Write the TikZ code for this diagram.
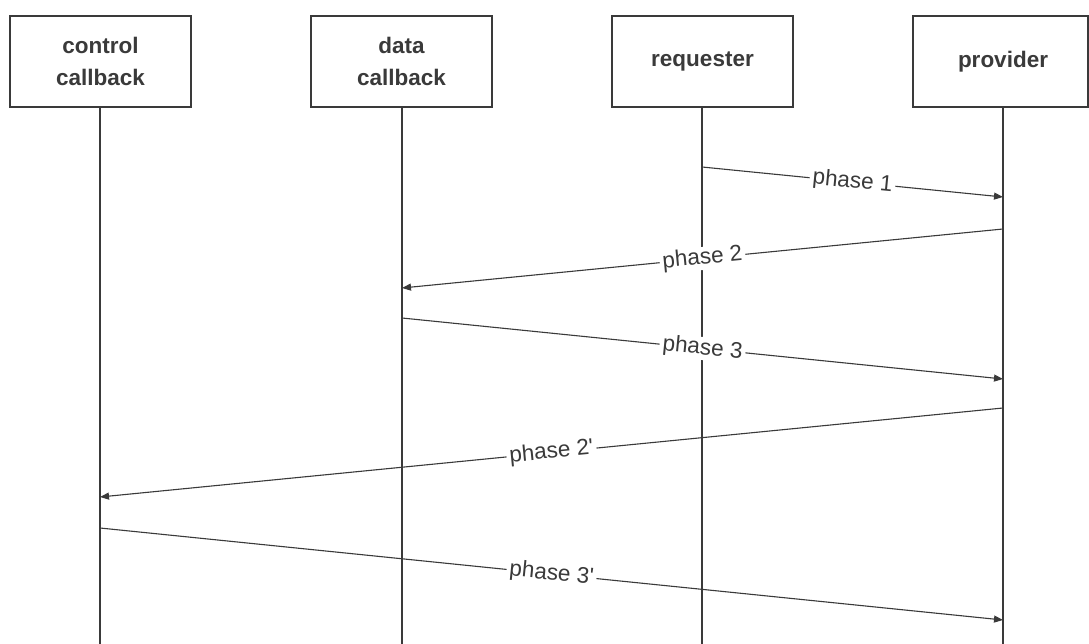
\documentclass[tikz,border=0pt]{standalone}
\usepackage{fontspec}
\setmainfont{Liberation Sans}
\usetikzlibrary{arrows.meta}
\definecolor{ink}{HTML}{3A3A3A}
\begin{document}
\begin{tikzpicture}[x=1pt,y=-1pt,
  actor/.style={draw=ink, line width=1.6pt, fill=white, minimum height=91pt,
    align=center, text=ink, font=\fontsize{22.5}{32}\selectfont\bfseries},
  life/.style={draw=ink, line width=1.6pt},
  msg/.style={draw=ink, line width=1.1pt, -{Triangle[length=9pt,width=7pt]}},
  lbl/.style={sloped, fill=white, inner xsep=3pt, inner ysep=1pt, text=ink,
    font=\fontsize{22.5}{26}\selectfont}]
\useasboundingbox[fill=white] (0,0) rectangle (1089,644);

% participants
\node[actor, minimum width=181pt] (ctl) at (100.5,61.5) {control\\callback};
\node[actor, minimum width=181pt] (dat) at (401.5,61.5) {data\\callback};
\node[actor, minimum width=181pt] (req) at (702.5,61.5) {requester};
\node[actor, minimum width=175pt] (prv) at (1000.5,61.5) {\hspace*{5pt}provider};

% lifeline ends
\coordinate (ctlT) at (100,107);  \coordinate (ctlB) at (100,644);
\coordinate (datT) at (402,107);  \coordinate (datB) at (402,644);
\coordinate (reqT) at (702,107);  \coordinate (reqB) at (702,644);
\coordinate (prvT) at (1003,107); \coordinate (prvB) at (1003,644);

\draw[life] (ctlT) -- (ctlB);
\draw[life] (datT) -- (datB);
\draw[life] (reqT) -- (reqB);
\draw[life] (prvT) -- (prvB);

% message end points on the lifelines
\coordinate (m1a) at (702,167);  \coordinate (m1b) at (1003,197);
\coordinate (m2a) at (1003,229); \coordinate (m2b) at (402,288);
\coordinate (m3a) at (402,318);  \coordinate (m3b) at (1003,379);
\coordinate (m4a) at (1003,408); \coordinate (m4b) at (100,497);
\coordinate (m5a) at (100,528);  \coordinate (m5b) at (1003,620);

% messages
\draw[msg] (m1a) -- node[lbl] (l1) {phase 1} (m1b);
\draw[msg] (m2a) -- node[lbl] (l2) {phase 2} (m2b);
\draw[msg] (m3a) -- node[lbl] (l3) {phase 3} (m3b);
\draw[msg] (m4a) -- node[lbl] (l4) {phase 2\textquotesingle} (m4b);
\draw[msg] (m5a) -- node[lbl] (l5) {phase 3\textquotesingle} (m5b);
\end{tikzpicture}
\end{document}
